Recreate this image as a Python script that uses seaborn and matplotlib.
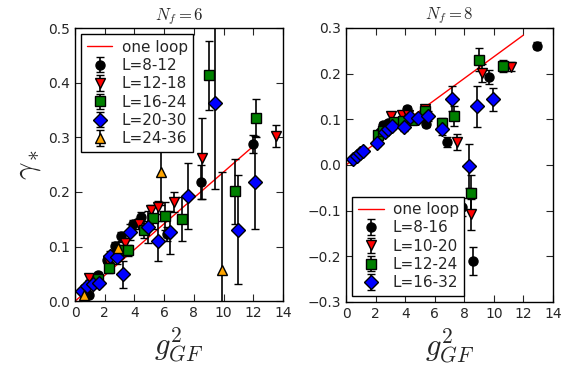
import numpy as np
import matplotlib
matplotlib.use('Agg')
import matplotlib.pyplot as plt
import seaborn as sns

# one-loop line (endpoints)
loop_x = [0, 12]
loop_y = [0, 0.284]

# Nf = 6
nf6_L1_x = [0.94, 1.52, 2.13, 2.69, 3.07, 3.93, 4.44, 6.20, 8.48, 12.0]
nf6_L1_y = [0.012, 0.048, 0.076, 0.101, 0.119, 0.141, 0.154, 0.123, 0.218, 0.288]
nf6_L1_e = [0.005, 0.006, 0.006, 0.007, 0.008, 0.008, 0.010, 0.012, 0.031, 0.016]

nf6_L2_x = [0.94, 2.24, 3.36, 4.33, 5.11, 5.60, 6.66, 8.57, 13.5]
nf6_L2_y = [0.043, 0.074, 0.107, 0.142, 0.167, 0.172, 0.182, 0.262, 0.302]
nf6_L2_e = [0.005, 0.008, 0.008, 0.010, 0.010, 0.012, 0.018, 0.074, 0.020]

nf6_L3_x = [1.57, 2.31, 3.03, 3.59, 4.67, 5.27, 6.08, 7.22, 9.04, 10.77, 12.2]
nf6_L3_y = [0.040, 0.060, 0.093, 0.093, 0.131, 0.153, 0.156, 0.150, 0.414, 0.201, 0.336]
nf6_L3_e = [0.006, 0.008, 0.010, 0.010, 0.015, 0.020, 0.025, 0.040, 0.063, 0.059, 0.035]

nf6_L4_x = [0.49, 0.79, 1.19, 1.62, 2.36, 2.80, 3.21, 3.72, 4.93, 5.56, 6.39, 7.58, 9.44, 11.0, 12.1]
nf6_L4_y = [0.019, 0.028, 0.031, 0.034, 0.082, 0.080, 0.049, 0.127, 0.136, 0.110, 0.126, 0.193, 0.363, 0.131, 0.218]
nf6_L4_e = [0.004, 0.005, 0.006, 0.007, 0.010, 0.012, 0.024, 0.015, 0.030, 0.036, 0.040, 0.060, 0.158, 0.100, 0.085]

nf6_L5_x = [0.61, 2.87, 5.80, 9.87]
nf6_L5_y = [0.012, 0.098, 0.236, 0.057]
nf6_L5_e = [0.005, 0.010, 0.060, 0.180]

nf6_labels = ['L=8-12', 'L=12-18', 'L=16-24', 'L=20-30', 'L=24-36']

# Nf = 8
nf8_L1_x = [2.30, 2.52, 2.86, 3.99, 4.10, 5.38, 6.80, 7.86, 8.60, 9.69, 12.93]
nf8_L1_y = [0.071, 0.088, 0.091, 0.102, 0.122, 0.090, 0.050, -0.093, -0.210, 0.192, 0.261]
nf8_L1_e = [0.005, 0.005, 0.006, 0.006, 0.006, 0.008, 0.010, 0.020, 0.030, 0.015, 0.008]

nf8_L2_x = [3.04, 3.76, 4.21, 5.34, 7.52, 8.45, 9.23, 11.15]
nf8_L2_y = [0.106, 0.109, 0.109, 0.122, 0.050, -0.108, 0.201, 0.215]
nf8_L2_e = [0.006, 0.006, 0.006, 0.008, 0.017, 0.034, 0.020, 0.010]

nf8_L3_x = [2.18, 2.52, 3.26, 3.87, 4.44, 5.34, 6.47, 7.30, 8.47, 9.00, 10.59]
nf8_L3_y = [0.066, 0.075, 0.093, 0.095, 0.099, 0.117, 0.091, 0.107, -0.062, 0.230, 0.217]
nf8_L3_e = [0.006, 0.006, 0.007, 0.007, 0.008, 0.010, 0.012, 0.022, 0.040, 0.025, 0.013]

nf8_L4_x = [0.49, 0.72, 0.95, 1.13, 2.07, 2.64, 2.86, 3.09, 3.94, 4.32, 4.84, 5.52, 6.49, 7.16, 8.29, 8.83, 9.95]
nf8_L4_y = [0.013, 0.020, 0.027, 0.031, 0.047, 0.071, 0.078, 0.085, 0.082, 0.104, 0.102, 0.107, 0.078, 0.145, -0.002, 0.128, 0.144]
nf8_L4_e = [0.003, 0.003, 0.004, 0.004, 0.005, 0.006, 0.006, 0.006, 0.007, 0.008, 0.008, 0.010, 0.012, 0.028, 0.048, 0.044, 0.025]

nf8_labels = ['L=8-16', 'L=10-20', 'L=12-24', 'L=16-32']

markers = ['o', 'v', 's', 'D', '^']
colors = ['black', 'red', 'green', 'blue', 'orange']

sns.set_style('ticks', {'xtick.direction': 'in', 'ytick.direction': 'in',
                        'axes.edgecolor': 'black'})
plt.rcParams['mathtext.fontset'] = 'cm'

fig = plt.figure(figsize=(5.73, 3.76), dpi=100)
ax1 = fig.add_axes([0.131, 0.199, 0.363, 0.726])
ax2 = fig.add_axes([0.604, 0.197, 0.361, 0.729])


def draw(ax, series, labels):
    sns.lineplot(x=loop_x, y=loop_y, color='red', lw=1, label='one loop', ax=ax)
    for (sx, sy, se), lab, m, c in zip(series, labels, markers, colors):
        ms = 6.5 if m != 'D' else 7.5
        ax.errorbar(sx, sy, yerr=se, fmt=m, color=c, mec='black', ms=ms,
                    ecolor='black', elinewidth=1.2, capsize=3, capthick=1,
                    label=lab)


draw(ax1, [(nf6_L1_x, nf6_L1_y, nf6_L1_e), (nf6_L2_x, nf6_L2_y, nf6_L2_e),
           (nf6_L3_x, nf6_L3_y, nf6_L3_e), (nf6_L4_x, nf6_L4_y, nf6_L4_e),
           (nf6_L5_x, nf6_L5_y, nf6_L5_e)], nf6_labels)
draw(ax2, [(nf8_L1_x, nf8_L1_y, nf8_L1_e), (nf8_L2_x, nf8_L2_y, nf8_L2_e),
           (nf8_L3_x, nf8_L3_y, nf8_L3_e), (nf8_L4_x, nf8_L4_y, nf8_L4_e)], nf8_labels)

ax1.set_xlim(0, 14)
ax1.set_ylim(0, 0.5)
ax2.set_xlim(0, 14)
ax2.set_ylim(-0.3, 0.3)

for ax in (ax1, ax2):
    ax.set_xticks(np.arange(0, 15, 2))
    ax.tick_params(top=True, right=True, labelsize=10, length=5, width=0.8)
    for sp in ax.spines.values():
        sp.set_visible(True)
        sp.set_linewidth(1)
    ax.set_xlabel('$g^2_{GF}$', fontsize=22)

ax1.set_yticks(np.arange(0, 0.51, 0.1))
ax2.set_yticks(np.arange(-0.3, 0.31, 0.1))
ax1.set_ylabel(r'$\gamma_*$', fontsize=22)
ax1.set_title('$N_f=6$', fontsize=12)
ax2.set_title('$N_f=8$', fontsize=12)

leg_kw = dict(numpoints=1, fontsize=11, fancybox=False, edgecolor='black',
              framealpha=1, handlelength=1.7, handletextpad=0.6,
              borderpad=0.35, labelspacing=0.22, borderaxespad=0.4)
ax1.legend(loc='upper left', **leg_kw)
ax2.legend(loc='lower left', **leg_kw)

fig.savefig('out.png', dpi=100)
